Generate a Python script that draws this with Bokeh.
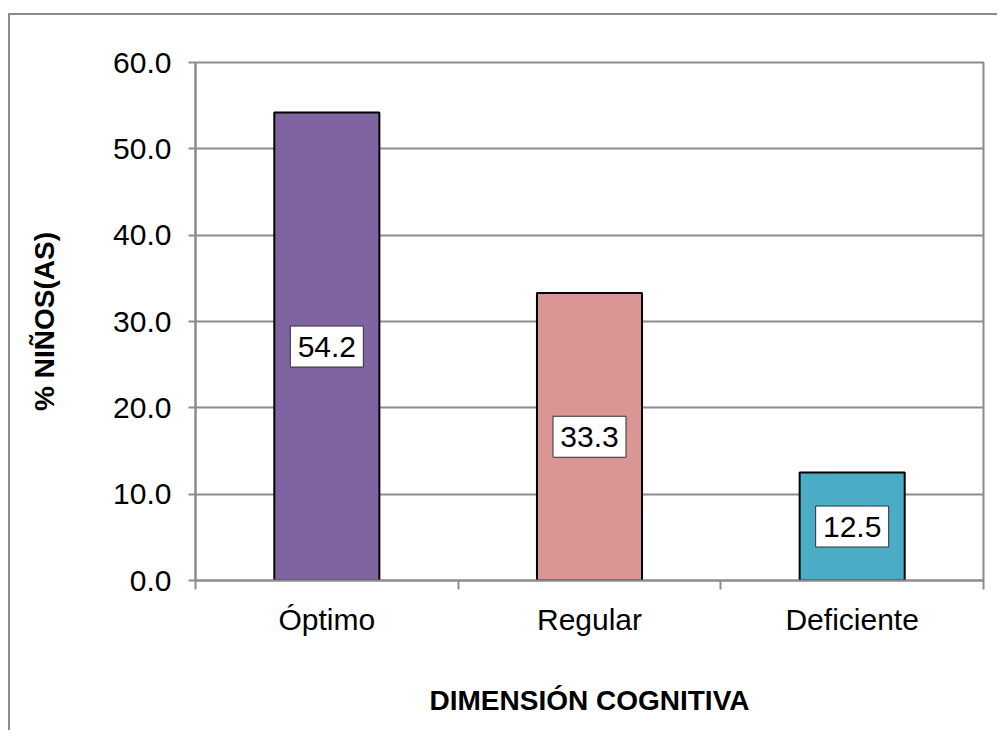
from bokeh.plotting import figure
from bokeh.models import ColumnDataSource, FixedTicker, LabelSet, PrintfTickFormatter, Range1d
from bokeh.embed import file_html
from bokeh.resources import INLINE
from bokeh.core.properties import value

# ---- data ----
categories = ["Óptimo", "Regular", "Deficiente"]
percentages = [54.2, 33.3, 12.5]
bar_colors = ["#8064A2", "#D99694", "#4BACC6"]
y_ticks = [0, 10, 20, 30, 40, 50, 60]
y_title = "% NIÑOS(AS)"
x_title = "DIMENSIÓN COGNITIVA"

FONT = "Liberation Sans"
GRAY = "#8c8c8c"

x_pos = [i + 0.5 for i in range(len(categories))]
src = ColumnDataSource(dict(
    x=x_pos,
    top=percentages,
    color=bar_colors,
    label_y=[v / 2 for v in percentages],
    label=[f"{v:.1f}" for v in percentages],
))

p = figure(width=989, height=717, output_backend="svg", toolbar_location=None,
           x_range=Range1d(0, len(categories)), y_range=Range1d(y_ticks[0], y_ticks[-1]),
           min_border_left=185, min_border_right=16, min_border_top=47, min_border_bottom=152)
p.margin = (13, 0, 0, 8)
p.styles = {"border-left": f"2px solid {GRAY}", "border-top": f"2px solid {GRAY}"}

p.background_fill_color = "white"
p.border_fill_color = "white"
p.outline_line_color = GRAY
p.outline_line_width = 2

p.xgrid.grid_line_color = None
p.ygrid.grid_line_color = GRAY
p.ygrid.grid_line_width = 2

p.vbar(x="x", top="top", bottom=0, width=0.4, fill_color="color",
       line_color="black", line_width=2, source=src)

# data-label boxes
p.rect(x="x", y="label_y", width=73, height=41, width_units="screen", height_units="screen",
       fill_color="white", line_color="#303030", line_width=1, source=src)

# y axis
ya = p.yaxis[0]
ya.ticker = FixedTicker(ticks=y_ticks)
ya.formatter = PrintfTickFormatter(format="%.1f")
ya.axis_line_color = GRAY
ya.axis_line_width = 2
ya.major_tick_line_color = GRAY
ya.major_tick_line_width = 2
ya.major_tick_out = 7
ya.major_tick_in = 0
ya.minor_tick_line_color = None
ya.major_label_standoff = 17
ya.major_label_text_font = FONT
ya.major_label_text_font_size = "30px"
ya.major_label_text_color = "black"
ya.axis_label = y_title
ya.axis_label_text_font = FONT
ya.axis_label_text_font_size = "28px"
ya.axis_label_text_font_style = "bold"
ya.axis_label_text_color = "black"
ya.axis_label_standoff = 50

# x axis
xa = p.xaxis[0]
xa.ticker = FixedTicker(ticks=x_pos, minor_ticks=list(range(len(categories) + 1)))
xa.major_label_overrides = {x: c for x, c in zip(x_pos, categories)}
xa.axis_line_color = GRAY
xa.axis_line_width = 2
xa.major_tick_line_color = None
xa.major_tick_out = 0
xa.major_tick_in = 0
xa.minor_tick_line_color = GRAY
xa.minor_tick_line_width = 2
xa.minor_tick_out = 9
xa.minor_tick_in = 0
xa.major_label_standoff = 13
xa.major_label_text_font = FONT
xa.major_label_text_font_size = "30px"
xa.major_label_text_color = "black"
xa.axis_label = x_title
xa.axis_label_text_font = FONT
xa.axis_label_text_font_size = "28px"
xa.axis_label_text_font_style = "bold"
xa.axis_label_text_color = "black"
xa.axis_label_standoff = 46

labels = LabelSet(x="x", y="label_y", text="label", source=src,
                  text_align="center", text_baseline="middle",
                  text_font=value(FONT), text_font_size="30px", text_color="black")
p.add_layout(labels)

open("out.html", "w").write(file_html(p, INLINE))
